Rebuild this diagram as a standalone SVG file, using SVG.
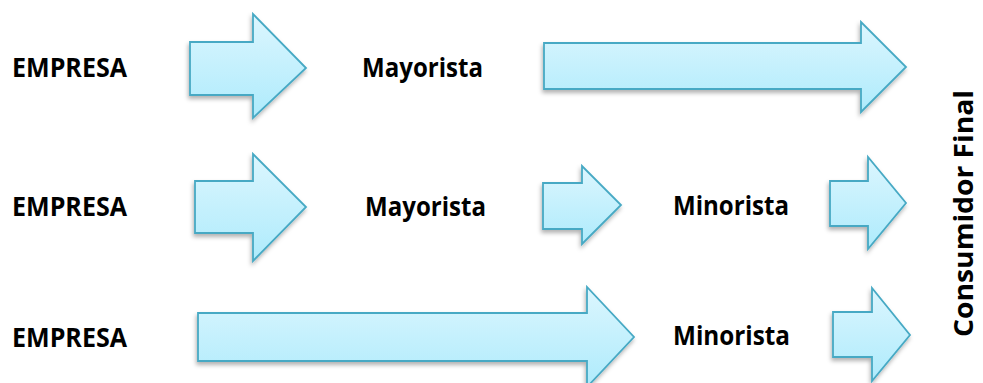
<svg xmlns="http://www.w3.org/2000/svg" width="983" height="383" viewBox="0 0 983 383">
  <defs>
    <linearGradient id="fillGrad" x1="0" y1="0" x2="0" y2="1">
      <stop offset="0" stop-color="#dcf6fe"/>
      <stop offset="1" stop-color="#aeebfc"/>
    </linearGradient>
    <filter id="shadow" x="-10%" y="-10%" width="120%" height="130%">
      <feDropShadow dx="-1" dy="3" stdDeviation="2" flood-color="#000" flood-opacity="0.3"/>
    </filter>
  </defs>
  <style>
    .arrow { fill: url(#fillGrad); stroke: #46a9c4; stroke-width: 1.8; stroke-linejoin: miter; filter: url(#shadow); }
    .lbl { font-family: "Open Sans", "Liberation Sans", sans-serif; font-weight: bold; font-size: 27px; fill: #000; }
  </style>
  <rect width="983" height="383" fill="#ffffff"/>

  <g id="connectors">
    <g id="arrow-r1a"><polygon class="arrow" points="190,42 253,42 253,14 306,68 253,118 253,95 190,95"/></g>
    <g id="arrow-r1b"><polygon class="arrow" points="544,43 861,43 861,22 906,67 861,112 861,89 544,89"/></g>
    <g id="arrow-r2a"><polygon class="arrow" points="195,181 253,181 253,154 306,207 253,261 253,233 195,233"/></g>
    <g id="arrow-r2b"><polygon class="arrow" points="543,183 582,183 582,166 621,205 582,244 582,229 543,229"/></g>
    <g id="arrow-r2c"><polygon class="arrow" points="830,181 868,181 868,157 906,203 868,249 868,226 830,226"/></g>
    <g id="arrow-r3a"><polygon class="arrow" points="198,313 587,313 587,287 634,337 587,387 587,361 198,361"/></g>
    <g id="arrow-r3b"><polygon class="arrow" points="833,312 872,312 872,288 910,335 872,381 872,357 833,357"/></g>
  </g>

  <g id="empresa1"><text class="lbl" x="12" y="77" textLength="115" lengthAdjust="spacingAndGlyphs">EMPRESA</text></g>
  <g id="mayorista1"><text class="lbl" x="362" y="77" textLength="121" lengthAdjust="spacingAndGlyphs">Mayorista</text></g>
  <g id="empresa2"><text class="lbl" x="12" y="216" textLength="115" lengthAdjust="spacingAndGlyphs">EMPRESA</text></g>
  <g id="mayorista2"><text class="lbl" x="365" y="216" textLength="121" lengthAdjust="spacingAndGlyphs">Mayorista</text></g>
  <g id="minorista2"><text class="lbl" x="673" y="215" textLength="116" lengthAdjust="spacingAndGlyphs">Minorista</text></g>
  <g id="empresa3"><text class="lbl" x="12" y="347" textLength="115" lengthAdjust="spacingAndGlyphs">EMPRESA</text></g>
  <g id="minorista3"><text class="lbl" x="673" y="345" textLength="117" lengthAdjust="spacingAndGlyphs">Minorista</text></g>
  <g id="consumidor"><text class="lbl" transform="translate(973,337) rotate(-90)" x="0" y="0" textLength="247" lengthAdjust="spacingAndGlyphs">Consumidor Final</text></g>
</svg>
